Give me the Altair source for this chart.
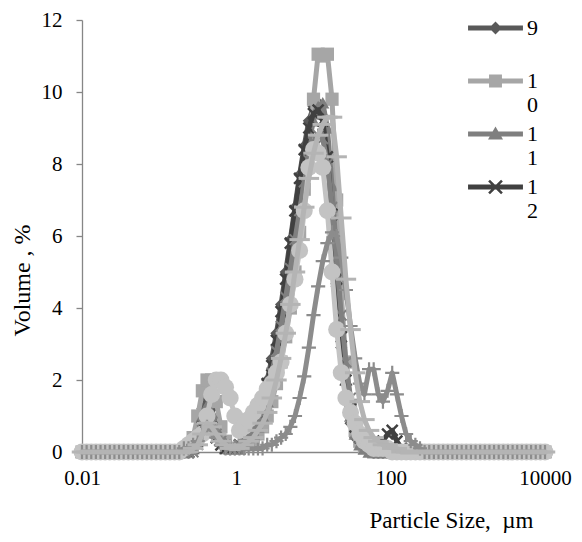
import altair as alt
import numpy as np
import pandas as pd

N = 101
# instrument size classes (µm), 0.01 .. 10000 on a log grid
sizes = [float(f"{v:.6g}") for v in np.logspace(-2, 4, N)]

names = ["9", "10", "11", "12", "13", "14", "15", "16"]

# first non-zero size class of each series and its readings (Volume %)
s9_start = 24
s9 = [0.1, 0.5, 1.2, 1.5, 1.2, 0.7, 0.4, 0.2, 0.1, 0.1, 0.2, 0.3, 0.5, 0.8, 1.1, 1.5, 2.0, 2.6, 3.3,
      4.1, 5.0, 5.9, 6.8, 7.7, 8.5, 9.2, 9.6, 9.7, 9.3, 8.3, 6.6, 4.6, 2.9, 1.6, 0.8, 0.4, 0.2, 0.1, 0.1]
s10_start = 23
s10 = [0.1, 0.4, 1.0, 1.7, 2.0, 2.0, 1.4, 0.7, 0.3, 0.1, 0.1, 0.1, 0.2, 0.2, 0.3, 0.5, 0.7, 1.0, 1.4,
       1.9, 2.5, 3.2, 4.0, 5.0, 6.1, 7.3, 8.3, 9.8, 11.05, 11.0, 11.05, 9.8, 7.0, 4.4, 2.5, 1.3, 0.6,
       0.3, 0.1, 0.1]
s11_start = 24
s11 = [0.1, 0.4, 1.0, 1.3, 1.1, 0.6, 0.3, 0.1, 0.1, 0.1, 0.1, 0.2, 0.3, 0.5, 0.7, 1.0, 1.4, 1.9, 2.5,
       3.2, 4.0, 4.9, 5.9, 6.9, 7.8, 8.6, 9.2, 9.6, 9.7, 9.0, 7.4, 5.4, 3.5, 2.0, 1.0, 0.5, 0.2, 0.1]
s12_start = 24
s12 = [0.1, 0.3, 0.7, 1.0, 0.7, 0.4, 0.2, 0.1, 0.1, 0.1, 0.2, 0.3, 0.5, 0.8, 1.1, 1.5, 1.9, 2.4, 3.1,
       3.9, 4.8, 5.8, 6.7, 7.6, 8.4, 9.0, 9.4, 9.5, 9.2, 8.2, 6.6, 4.8, 3.2, 2.0, 1.2, 0.7, 0.4, 0.3,
       0.2, 0.2, 0.2, 0.3, 0.5, 0.6, 0.3, 0.1]
s13_start = 25
s13 = [0.2, 0.6, 0.9, 0.8, 0.5, 0.3, 0.2, 0.1, 0.1, 0.2, 0.3, 0.4, 0.6, 0.9, 1.3, 1.7, 2.2, 2.8, 3.5,
       4.3, 5.1, 5.9, 6.7, 7.5, 8.1, 8.6, 8.8, 8.7, 8.0, 6.8, 5.3, 3.8, 2.5, 1.5, 0.8, 0.4, 0.2, 0.1]
s14_start = 22
s14 = [0.1, 0.2, 0.3, 0.4, 0.5, 1.0, 1.6, 2.0, 2.0, 1.8, 1.5, 1.0, 0.6, 0.7, 0.9, 1.1, 1.3, 1.5, 1.75,
       1.9, 2.2, 2.5, 3.3, 4.1, 4.8, 5.6, 6.7, 7.9, 8.4, 8.3, 7.9, 6.7, 5.0, 3.4, 2.2, 1.5, 1.1, 0.8,
       0.5, 0.3, 0.2, 0.1, 0.1, 0.1, 0.1]
s15_start = 22
s15 = [0.1, 0.1, 0.2, 0.3, 0.5, 0.7, 0.6, 0.4, 0.2, 0.1, 0.1, 0.1, 0.1, 0.1, 0.1, 0.1, 0.1,
       0.1, 0.2, 0.2, 0.3, 0.4, 0.5, 0.7, 1.0, 1.5, 2.1, 2.9, 3.8, 4.6, 5.3, 5.8, 6.1, 6.0, 5.4, 4.5,
       3.5, 2.6, 1.9, 1.6, 2.3, 2.3, 1.6, 1.4, 1.7, 2.2, 1.6, 1.0, 0.5, 0.3, 0.2, 0.1]
s16_start = 24
s16 = [0.1, 0.2, 0.5, 0.8, 0.7, 0.5, 0.3, 0.2, 0.1, 0.1, 0.1, 0.2, 0.3, 0.4, 0.6, 0.8, 1.1, 1.5, 2.0,
       2.6, 3.3, 4.1, 5.0, 5.9, 6.8, 7.6, 8.3, 8.8, 9.1, 9.3, 9.3, 8.2, 6.5, 4.8, 3.4, 2.2, 1.4, 0.9,
       0.6, 0.4, 0.3, 0.2, 0.2, 0.1, 0.1]

segments = {"9": (s9_start, s9), "10": (s10_start, s10), "11": (s11_start, s11),
            "12": (s12_start, s12), "13": (s13_start, s13), "14": (s14_start, s14),
            "15": (s15_start, s15), "16": (s16_start, s16)}

colors = {"9": "#595959", "10": "#a6a6a6", "11": "#7f7f7f", "12": "#404040",
          "13": "#808080", "14": "#c3c3c3", "15": "#8c8c8c", "16": "#b4b4b4"}

# marker style per series: (shape, filled, size, strokeWidth)
markers = {
    "9": ("diamond", True, 150, 0),
    "10": ("square", True, 175, 0),
    "11": ("triangle-up", True, 175, 0),
    "12": ("M-1,-1L1,1M-1,1L1,-1", False, 120, 2.5),
    "13": ("M-1,-1L1,1M-1,1L1,-1M0,-1.3L0,1.3", False, 110, 2),
    "14": ("circle", True, 290, 0),
    "15": ("M-1,0L1,0M0,-1L0,1", False, 200, 2.2),
    "16": ("M-1,0L1,0", False, 420, 3),
}

legend_names = ["9", "10", "11", "12"]
legend_colors = ["#595959", "#a6a6a6", "#7f7f7f", "#404040"]
bar = "M-1.83,-0.17H1.83V0.17H-1.83Z"
legend_shapes = [
    bar + " M0,-0.43L0.43,0L0,0.43L-0.43,0Z",
    bar + " M-0.43,-0.43H0.43V0.43H-0.43Z",
    bar + " M0,-0.5L0.5,0.37L-0.5,0.37Z",
    bar + " M-0.49,-0.37L-0.37,-0.49L0.49,0.37L0.37,0.49Z M-0.49,0.37L0.37,-0.49L0.49,-0.37L-0.37,0.49Z",
]

FONT = "Liberation Serif"
AX = "#868686"

xscale = alt.Scale(type="log", domain=[0.01, 10000], nice=False)
yscale = alt.Scale(domain=[0, 12], nice=False, zero=False)
xaxis = alt.Axis(values=[0.01, 1, 100, 10000], format="~g", title="Particle Size,\u00a0 µm",
                 grid=False, ticks=False, tickSize=0, labelPadding=15, labelFlush=False,
                 labelOverlap=False, domainColor=AX, domainWidth=1.3,
                 titleX=369, titleY=68, titleAlign="center", titleBaseline="middle",
                 titleFontSize=23)
yaxis = alt.Axis(values=[0, 2, 4, 6, 8, 10, 12], title="Volume , %", grid=False,
                 tickSize=6, tickColor=AX, tickWidth=1.3, labelPadding=14,
                 domainColor=AX, domainWidth=1.3,
                 titleX=-60, titleY=260, titleAlign="center", titleBaseline="middle")

layers = []
for nm in names:
    start, seg = segments[nm]
    vals = [0.0] * start + seg + [0.0] * (N - start - len(seg))
    df = pd.DataFrame({"size": sizes, "vol": vals})
    base = alt.Chart(df).encode(
        x=alt.X("size:Q", scale=xscale, axis=xaxis),
        y=alt.Y("vol:Q", scale=yscale, axis=yaxis),
    )
    layers.append(base.mark_line(color=colors[nm], strokeWidth=5, strokeCap="round",
                                 strokeJoin="round"))
    shp, filled, sz, sw = markers[nm]
    if filled:
        pts = base.mark_point(shape=shp, filled=True, size=sz, color=colors[nm], opacity=1,
                              strokeWidth=0)
    else:
        pts = base.mark_point(shape=shp, filled=False, size=sz, color=colors[nm], opacity=1,
                              strokeWidth=sw)
    layers.append(pts)

leg_df = pd.DataFrame({"name": legend_names, "size": [1.0] * 4, "vol": [-50.0] * 4})
leg_common = dict(title=None, orient="none", legendX=398.5, legendY=-7, labelFont=FONT,
                  labelFontSize=22, labelColor="black", symbolSize=900, symbolStrokeWidth=0,
                  rowPadding=3, labelOffset=16.5, padding=0, symbolOpacity=1, labelLimit=200,
                  labelExpr="length(datum.label) > 1 ? [substring(datum.label, 0, 1), substring(datum.label, 1)] : [datum.label, ' ']")
legend_layer = alt.Chart(leg_df).mark_point(filled=True, opacity=1, size=900, clip=True,
                                            strokeWidth=0).encode(
    x=alt.X("size:Q", scale=xscale, axis=xaxis),
    y=alt.Y("vol:Q", scale=yscale, axis=yaxis),
    color=alt.Color("name:N", scale=alt.Scale(domain=legend_names, range=legend_colors),
                    legend=alt.Legend(**leg_common)),
    shape=alt.Shape("name:N", scale=alt.Scale(domain=legend_names, range=legend_shapes),
                    legend=alt.Legend(**leg_common)),
)

chart = alt.layer(*layers, legend_layer).properties(
    width=463, height=432,
    autosize=alt.AutoSizeParams(type="none"),
    padding={"left": 74, "top": 12, "right": 29, "bottom": 82},
    background="white",
).configure_view(stroke=None).configure_axis(
    labelFont=FONT, labelFontSize=21, labelColor="black",
    titleFont=FONT, titleFontSize=24, titleFontWeight="normal", titleColor="black",
)

chart.save("out.html", embed_options={"renderer": "svg", "actions": False})
